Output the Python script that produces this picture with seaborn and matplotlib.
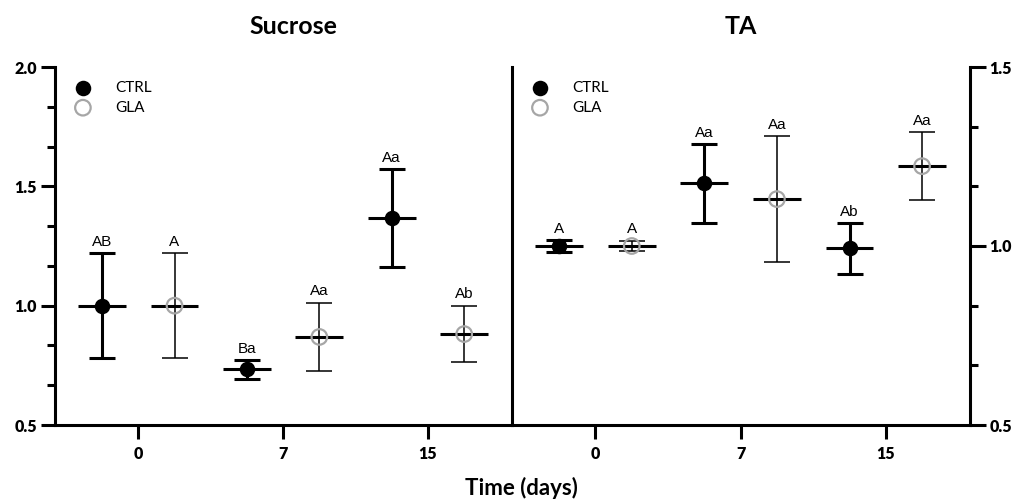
import matplotlib
matplotlib.use("Agg")
import numpy as np
import pandas as pd
import matplotlib.pyplot as plt
import seaborn as sns
from matplotlib.ticker import AutoMinorLocator, FixedLocator

# ---------------- data ----------------
days = ["0", "7", "15"]
groups = ["CTRL", "GLA"]

suc_ctrl = [1.000, 0.733, 1.369]
suc_ctrl_err = [0.219, 0.039, 0.205]
suc_gla = [1.000, 0.869, 0.881]
suc_gla_err = [0.219, 0.144, 0.119]
suc_ctrl_lab = ["AB", "Ba", "Aa"]
suc_gla_lab = ["A", "Aa", "Ab"]

ta_ctrl = [1.000, 1.175, 0.994]
ta_ctrl_err = [0.016, 0.110, 0.071]
ta_gla = [1.000, 1.131, 1.223]
ta_gla_err = [0.015, 0.177, 0.095]
ta_ctrl_lab = ["A", "Aa", "Ab"]
ta_gla_lab = ["A", "Aa", "Aa"]

suc_yticks = [0.5, 1.0, 1.5, 2.0]
ta_yticks = [0.5, 1.0, 1.5]

titles = ["Sucrose", "TA"]
xlabel = "Time (days)"


def build(ctrl, ctrl_err, ctrl_lab, gla, gla_err, gla_lab):
    rows = []
    for i, d in enumerate(days):
        rows.append(dict(day=d, idx=i, group="CTRL", mean=ctrl[i], err=ctrl_err[i], lab=ctrl_lab[i]))
        rows.append(dict(day=d, idx=i, group="GLA", mean=gla[i], err=gla_err[i], lab=gla_lab[i]))
    return pd.DataFrame(rows)


df_suc = build(suc_ctrl, suc_ctrl_err, suc_ctrl_lab, suc_gla, suc_gla_err, suc_gla_lab)
df_ta = build(ta_ctrl, ta_ctrl_err, ta_ctrl_lab, ta_gla, ta_gla_err, ta_gla_lab)

# ---------------- style ----------------
sns.set_theme(style="ticks")
plt.rcParams['font.family'] = ['Lato', 'DejaVu Sans']
plt.rcParams['font.weight'] = 'heavy'
plt.rcParams['axes.edgecolor'] = 'black'
plt.rcParams['xtick.color'] = 'black'
plt.rcParams['ytick.color'] = 'black'
plt.rcParams['text.color'] = 'black'
plt.rcParams['xtick.labelsize'] = 11.5
plt.rcParams['ytick.labelsize'] = 11.5

W, H = 1014, 504
fig = plt.figure(figsize=(W / 100, H / 100), dpi=100)
fig.patch.set_facecolor('white')
axL = fig.add_axes([55 / W, 1 - 425 / H, 457 / W, 358 / H])
axR = fig.add_axes([512 / W, 1 - 425 / H, 458 / W, 358 / H])

offsets = {"CTRL": -0.25, "GLA": 0.25}
GRAY = "#a6a6a6"
THICK = 2.2
THIN = 1.1


def draw(ax, df):
    df = df.copy()
    df["x"] = df["idx"] + df["group"].map(offsets)
    for g in groups:
        sub = df[df.group == g]
        lw = THICK if g == "CTRL" else THIN
        ax.errorbar(sub.x, sub["mean"], yerr=sub.err, fmt='none', ecolor='black',
                    elinewidth=lw, capsize=9.4, capthick=lw, zorder=2)
        ax.errorbar(sub.x, sub["mean"], xerr=0.165, fmt='none', ecolor='black',
                    elinewidth=THICK, capsize=0, zorder=3)
    c = df[df.group == "CTRL"]
    gl = df[df.group == "GLA"]
    sns.scatterplot(data=c, x="x", y="mean", ax=ax, marker='o', s=125, color='black',
                    edgecolor='black', linewidth=0, zorder=4, label="CTRL")
    sns.scatterplot(data=gl, x="x", y="mean", ax=ax, marker='o', s=125,
                    facecolor='none', edgecolor=GRAY, linewidth=1.6, zorder=4, label="GLA")
    for _, r in df.iterrows():
        ax.annotate(r.lab, (r.x, r["mean"] + r.err), xytext=(0, 3), textcoords='offset points',
                    ha='center', va='bottom', fontsize=11, fontweight='normal',
                    family=['Liberation Sans', 'DejaVu Sans'])
    ax.set_xlim(-0.575, 2.58)
    ax.xaxis.set_major_locator(FixedLocator([0, 1, 2]))
    ax.set_xticklabels(days)
    ax.set_xlabel("")
    ax.set_ylabel("")
    ax.yaxis.set_minor_locator(AutoMinorLocator(3))
    ax.tick_params(axis='both', which='major', length=10, width=THICK, pad=3)
    ax.tick_params(axis='y', which='minor', length=5.5, width=THICK)
    ax.tick_params(axis='x', which='major', pad=5)
    ax.set_facecolor('white')
    for s in ax.spines.values():
        s.set_linewidth(THICK)
        s.set_color('black')
    ax.spines['top'].set_visible(False)
    ax.legend(loc='upper left', bbox_to_anchor=(0.041, 0.962), borderaxespad=0, borderpad=0,
              frameon=False, prop={'size': 11, 'weight': 'normal'}, handlelength=1.2,
              handletextpad=1.5, labelspacing=0.4)


draw(axL, df_suc)
draw(axR, df_ta)

axL.set_ylim(0.5, 2.0)
axL.set_yticks(suc_yticks)
axL.set_yticklabels([f"{v:.1f}" for v in suc_yticks])
axL.spines['right'].set_visible(False)

axR.set_ylim(0.5, 1.5)
axR.yaxis.tick_right()
axR.set_yticks(ta_yticks)
axR.set_yticklabels([f"{v:.1f}" for v in ta_yticks])
axR.yaxis.set_minor_locator(AutoMinorLocator(3))
axR.tick_params(axis='y', which='both', left=False, right=True, labelleft=False, labelright=True)
axR.tick_params(axis='y', which='major', length=11.5, pad=2.5)

fig.text(293 / W, 1 - 27 / H, titles[0], ha='center', va='center', fontsize=18, fontweight='bold')
fig.text(741 / W, 1 - 27 / H, titles[1], ha='center', va='center', fontsize=18, fontweight='bold')
fig.text(521 / W, 1 - 488 / H, xlabel, ha='center', va='center', fontsize=16, fontweight='bold')

fig.savefig("out.png", dpi=100, facecolor='white')
